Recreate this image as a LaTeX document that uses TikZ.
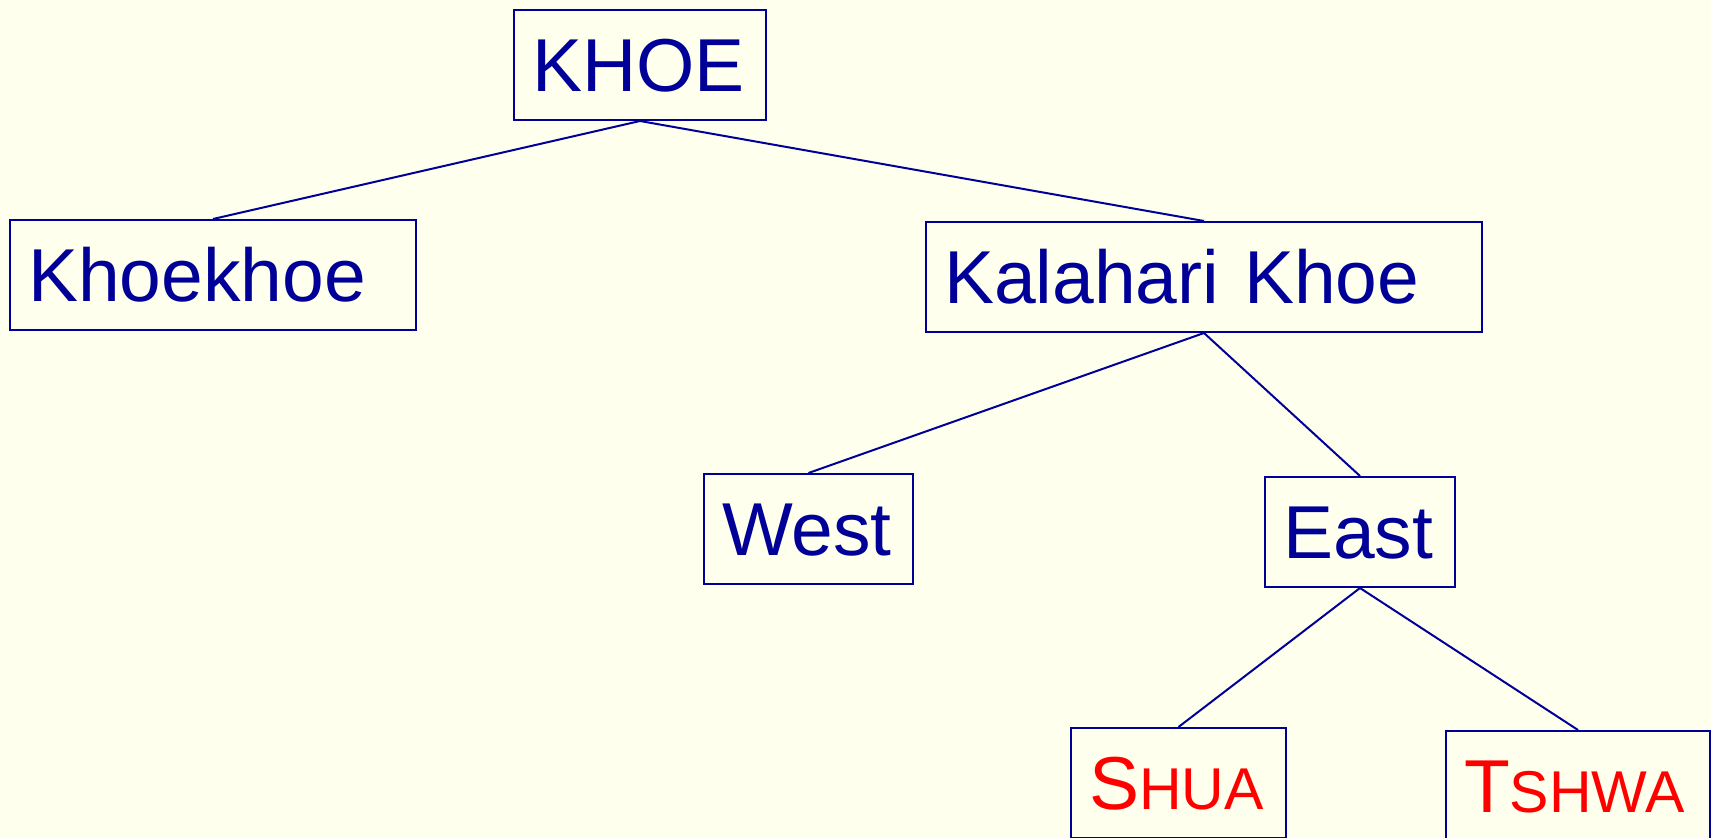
\documentclass[tikz,border=0pt]{standalone}
\usepackage{fontspec}
\setmainfont{Liberation Sans}
\definecolor{bg}{HTML}{FFFFED}
\definecolor{navy}{HTML}{000099}
\definecolor{hot}{HTML}{FF0000}
\newcommand{\bigtxt}{\fontsize{75}{80}\selectfont}
\newcommand{\smtxt}{\fontsize{59}{64}\selectfont}
\tikzset{
  tbox/.style={draw=navy, line width=2pt, anchor=north west, inner xsep=18pt,
    inner ysep=21pt, text height=60pt, text depth=8pt, align=left,
    text width=#1-36pt, font=\bigtxt, text=navy},
  link/.style={draw=navy, line width=2pt}
}
\begin{document}
\begin{tikzpicture}[x=1pt,y=-1pt]
\useasboundingbox (0,0) rectangle (1711,838);
\fill[bg] (0,0) rectangle (1711,838);
\clip (0,0) rectangle (1711,838);
\node[tbox=252pt] (khoe) at (513,9) {KHOE};
\node[tbox=406pt] (khoekhoe) at (9,219) {Khoekhoe};
\node[tbox=556pt] (kalahari) at (925,221) {Kalahari Khoe};
\node[tbox=209pt] (west) at (703,473) {West};
\node[tbox=190pt] (east) at (1264,476) {East};
\node[tbox=215pt, text=hot] (shua) at (1070,727) {S{\smtxt HUA}};
\node[tbox=264pt, text=hot] (tshwa) at (1445,730) {T{\smtxt SHWA}};
\draw[link] (khoe.south) -- (khoekhoe.north);
\draw[link] (khoe.south) -- (kalahari.north);
\draw[link] (kalahari.south) -- (west.north);
\draw[link] (kalahari.south) -- (east.north);
\draw[link] (east.south) -- (shua.north);
\draw[link] (east.south) -- (tshwa.north);
\end{tikzpicture}
\end{document}
